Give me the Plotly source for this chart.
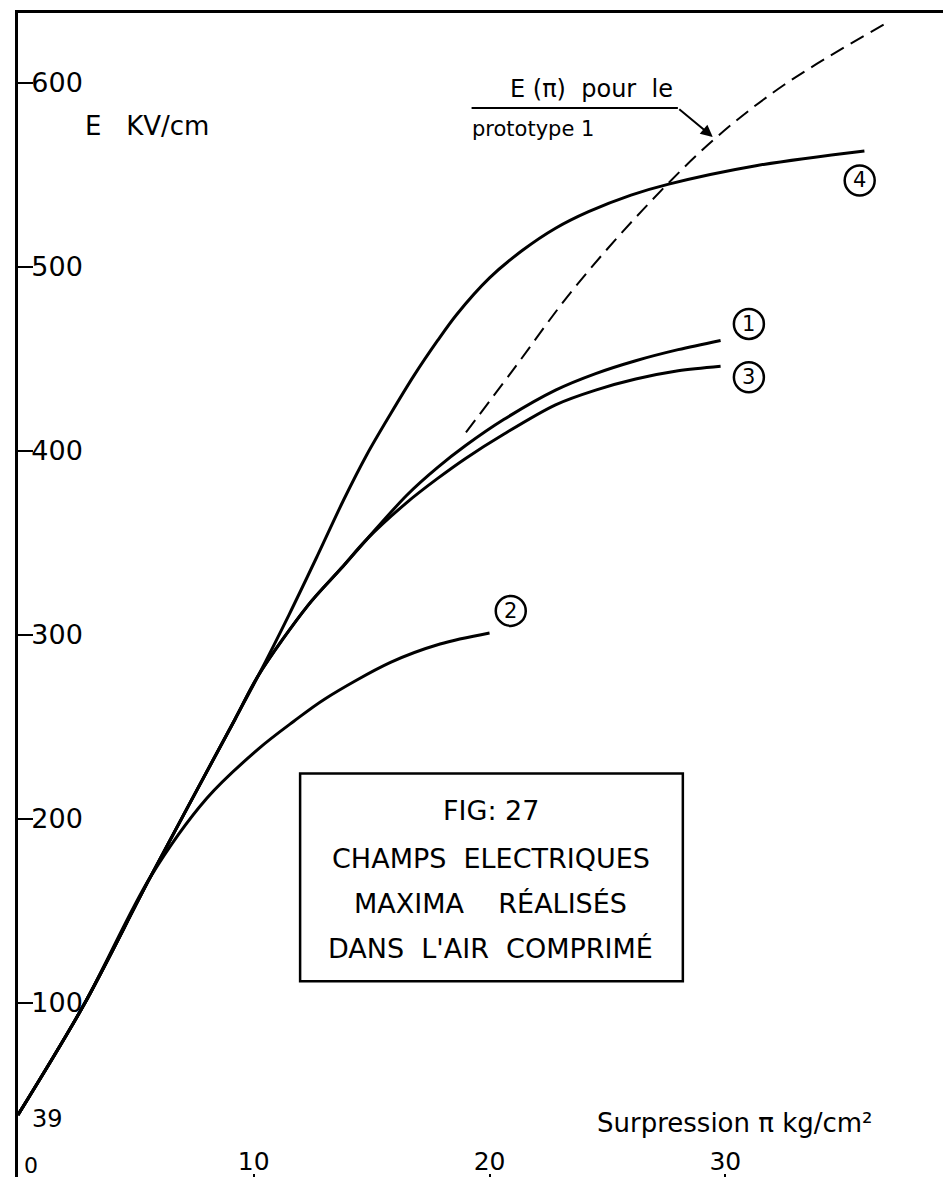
import plotly.graph_objects as go

# ---------------- data ----------------
# common trunk: all curves start at E = 39 kV/cm for zero overpressure
trunk_x = [0, 2.8, 5.6]
trunk_y = [39, 99, 168]

curve2_x = trunk_x + [8.0, 10.2, 11.7, 13.0, 15.8, 17.9, 20.0]
curve2_y = trunk_y + [211, 238, 253, 265, 285, 295, 301]

shared134_x = trunk_x + [9.2, 10.2]
shared134_y = trunk_y + [254, 278]

curve4_x = shared134_x + [11.5, 12.7, 13.8, 14.8, 15.8, 16.8, 17.8, 18.6, 20.0, 21.4, 22.8, 24.2, 26.0, 27.6, 31.3, 35.9]
curve4_y = shared134_y + [311, 343, 373, 398, 420, 441, 460, 474, 494, 509, 521, 530, 539, 545, 555, 563]

curve1_x = shared134_x + [12.3, 13.7, 14.8, 16.5, 17.8, 19.0, 20.6, 22.8, 24.5, 26.2, 28.0, 29.8]
curve1_y = shared134_y + [316, 336, 352, 376, 391, 403, 417, 433, 442, 449, 455, 460]

curve3_x = shared134_x + [12.3, 13.7, 14.8, 16.5, 17.8, 19.0, 20.6, 22.8, 24.5, 26.2, 28.0, 29.8]
curve3_y = shared134_y + [316, 336, 352, 372, 385, 396, 409, 425, 433, 439, 443.5, 446]

proto_x = [19.0, 21.0, 23.5, 26.5, 29.5, 32.5, 36.9]
proto_y = [410, 444, 487, 531, 569, 599, 633]

y_ticks = [100, 200, 300, 400, 500, 600]
x_ticks = [10, 20, 30]

curve_labels = ["1", "2", "3", "4"]
label_x = [31.0, 20.9, 31.0, 35.7]
label_y = [469, 313, 440, 547]

box_lines = ["FIG: 27", "CHAMPS  ELECTRIQUES", "MAXIMA    RÉALISÉS", "DANS  L'AIR  COMPRIMÉ"]

FONT = "DejaVu Sans"
fig = go.Figure()

line_style = dict(color="black", width=3, shape="spline", smoothing=0.9)
for xs, ys in [(curve2_x, curve2_y), (curve4_x, curve4_y), (curve1_x, curve1_y), (curve3_x, curve3_y)]:
    fig.add_trace(go.Scatter(x=xs, y=ys, mode="lines", line=line_style, hoverinfo="skip"))

fig.add_trace(go.Scatter(x=proto_x, y=proto_y, mode="lines",
                         line=dict(color="black", width=2, dash="15px,8px", shape="spline"),
                         hoverinfo="skip"))

shapes = []
annotations = []

# circled curve labels
for d, lx, ly in zip(curve_labels, label_x, label_y):
    shapes.append(dict(type="circle", xref="x", yref="y", xsizemode="pixel", ysizemode="pixel",
                       xanchor=lx, yanchor=ly, x0=-15, x1=15, y0=-15, y1=15,
                       line=dict(color="black", width=2.5)))
    annotations.append(dict(x=lx, y=ly, xref="x", yref="y", text=d, showarrow=False,
                            font=dict(family=FONT, size=21, color="black"),
                            xanchor="center", yanchor="middle"))

# title box
shapes.append(dict(type="rect", xref="paper", yref="paper", x0=0.3014, x1=0.7103,
                   y0=0.1725, y1=0.3501, line=dict(color="black", width=2.5)))
for txt, yy in zip(box_lines, [0.3185, 0.2775, 0.2391, 0.2007]):
    annotations.append(dict(x=0.505, y=yy, xref="paper", yref="paper", text=txt, showarrow=False,
                            font=dict(family=FONT, size=27, color="black"),
                            xanchor="center", yanchor="middle"))

# prototype annotation with leader line and arrow
shapes.append(dict(type="line", xref="paper", yref="paper", x0=0.4846, x1=0.705,
                   y0=0.9189, y1=0.9189, line=dict(color="black", width=2)))
annotations.append(dict(x=0.7423, y=0.8941, xref="paper", yref="paper", text="",
                        showarrow=True, ax=-35, ay=-29, arrowhead=2, arrowsize=1.2,
                        arrowwidth=2, arrowcolor="black"))
annotations.append(dict(x=0.613, y=0.9351, xref="paper", yref="paper", text="E (π)  pour  le",
                        showarrow=False, font=dict(family=FONT, size=24, color="black"),
                        xanchor="center", yanchor="middle"))
annotations.append(dict(x=0.5506, y=0.901, xref="paper", yref="paper", text="prototype 1",
                        showarrow=False, font=dict(family=FONT, size=21, color="black"),
                        xanchor="center", yanchor="middle"))

# axis titles
annotations.append(dict(x=0.0692, y=0.9035, xref="paper", yref="paper", text="E   KV/cm",
                        showarrow=False, font=dict(family=FONT, size=26, color="black"),
                        xanchor="left", yanchor="middle"))
annotations.append(dict(x=0.7657, y=0.051, xref="paper", yref="paper",
                        text="Surpression π kg/cm²", showarrow=False,
                        font=dict(family=FONT, size=26, color="black"),
                        xanchor="center", yanchor="middle"))
annotations.append(dict(x=0, y=39, xref="x", yref="y", text="39", showarrow=False,
                        font=dict(family=FONT, size=24, color="black"),
                        xanchor="left", yanchor="middle", xshift=12, yshift=-4))
annotations.append(dict(x=0, y=0, xref="paper", yref="paper", text="0", showarrow=False,
                        font=dict(family=FONT, size=22, color="black"),
                        xanchor="left", yanchor="bottom", xshift=4, yshift=3))

fig.update_layout(
    width=951, height=1177,
    margin=dict(l=10, r=2, t=4, b=2),
    paper_bgcolor="white", plot_bgcolor="white",
    showlegend=False,
    shapes=shapes, annotations=annotations,
    font=dict(family=FONT, color="black"),
)
fig.update_xaxes(range=[0, 39.7], tickvals=x_ticks, ticktext=[str(v) for v in x_ticks],
                 ticks="inside", ticklen=9, tickwidth=2, tickcolor="black",
                 ticklabelposition="inside", ticklabelstandoff=1,
                 tickfont=dict(family=FONT, size=25, color="black"),
                 showline=True, linecolor="black", linewidth=2.5, mirror=True,
                 showgrid=False, zeroline=False)
fig.update_yaxes(range=[2, 638], tickvals=y_ticks, ticktext=[str(v) for v in y_ticks],
                 ticks="inside", ticklen=15, tickwidth=2, tickcolor="black",
                 ticklabelposition="inside", ticklabelstandoff=1,
                 tickfont=dict(family=FONT, size=27, color="black"),
                 showline=True, linecolor="black", linewidth=2.5, mirror=True,
                 showgrid=False, zeroline=False)

fig.write_html("out.html")
